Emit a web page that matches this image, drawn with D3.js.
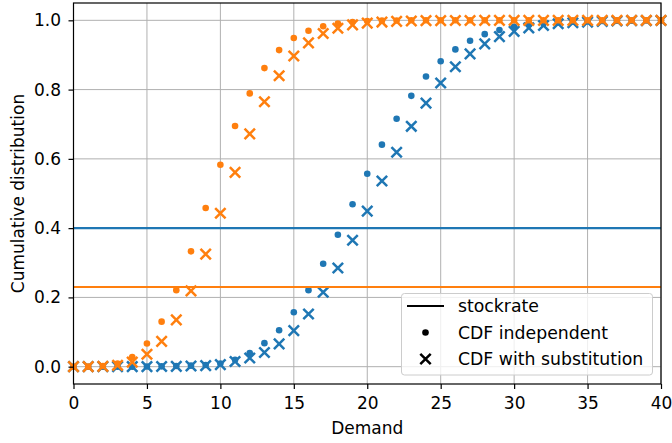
<!DOCTYPE html>
<html lang="en">
<head>
<meta charset="UTF-8">
<title>Cumulative distribution</title>
<script src="https://d3js.org/d3.v7.min.js"></script>
<style>
  body { margin: 0; background: #fff; }
  svg { display: block; font-family: 'DejaVu Sans', sans-serif; }
</style>
</head>
<body>
<svg id="chart" width="672" height="443"></svg>
<script>
// demand values 0..40
var demand = [0,1,2,3,4,5,6,7,8,9,10,11,12,13,14,15,16,17,18,19,20,21,22,23,24,25,26,27,28,29,30,31,32,33,34,35,36,37,38,39,40];

var blueIndep = [0,0,0,0,0,0.0005,0.001,0.002,0.003,0.005,0.009,0.02,0.039,0.068,0.105,0.157,0.221,0.297,0.381,0.469,
  0.557,0.641,0.716,0.782,0.838,0.882,0.916,0.941,0.960,0.972,0.981,0.987,0.991,0.994,0.996,0.997,0.998,0.999,0.999,0.9995,1.0];
var blueSubst = [0,0,0,0,0,0,0.0005,0.001,0.002,0.003,0.006,0.015,0.025,0.041,0.066,0.104,0.152,0.215,0.285,0.365,
  0.449,0.536,0.619,0.694,0.761,0.819,0.866,0.903,0.932,0.953,0.968,0.978,0.985,0.990,0.993,0.995,0.997,0.998,0.999,0.999,0.9995];
var orangeIndep = [0,0.0002,0.002,0.009,0.028,0.067,0.130,0.221,0.333,0.458,0.583,0.695,0.789,0.862,0.914,0.949,0.970,0.983,0.991,0.995,
  0.998,0.999,0.9995,1,1,1,1,1,1,1,1,1,1,1,1,1,1,1,1,1,1];
var orangeSubst = [0,0,0.001,0.004,0.013,0.036,0.073,0.135,0.219,0.325,0.443,0.561,0.672,0.765,0.840,0.897,0.935,0.962,0.977,0.987,
  0.992,0.995,0.997,0.998,0.999,0.999,0.9995,0.9995,1,1,1,1,1,1,1,1,1,1,1,1,1];

var stockrates = [0.4, 0.23];
var colors = ["#1f77b4", "#ff7f0e"];

var xTicks = [0,5,10,15,20,25,30,35,40];
var yTicks = [0.0,0.2,0.4,0.6,0.8,1.0];

var legendLabels = ["stockrate", "CDF independent", "CDF with substitution"];

var svg = d3.select("#chart");
var L = 73.5, R = 661, T = 3, B = 384;
var FS = "17px";

var x = d3.scaleLinear().domain([0, 40]).range([L, R]);
var y = d3.scaleLinear().domain([-0.05, 1.05]).range([B, T]);

// grid
var grid = svg.append("g");
grid.selectAll("line.gx").data(xTicks).enter().append("line")
  .attr("x1", d => x(d)).attr("x2", d => x(d)).attr("y1", T).attr("y2", B)
  .attr("stroke", "#b0b0b0").attr("stroke-width", 1);
grid.selectAll("line.gy").data(yTicks).enter().append("line")
  .attr("x1", L).attr("x2", R).attr("y1", d => y(d)).attr("y2", d => y(d))
  .attr("stroke", "#b0b0b0").attr("stroke-width", 1);

var series = [
  {color: colors[0], stock: stockrates[0], indep: blueIndep, subst: blueSubst},
  {color: colors[1], stock: stockrates[1], indep: orangeIndep, subst: orangeSubst}
];

var plot = svg.append("g");
function cross(g, cx, cy, s, color) {
  g.append("path")
    .attr("d", "M" + (cx - s) + "," + (cy - s) + "L" + (cx + s) + "," + (cy + s) +
               "M" + (cx - s) + "," + (cy + s) + "L" + (cx + s) + "," + (cy - s))
    .attr("stroke", color).attr("stroke-width", 2.5).attr("fill", "none");
}

series.forEach(function(s) {
  plot.append("line")
    .attr("x1", L).attr("x2", R).attr("y1", y(s.stock)).attr("y2", y(s.stock))
    .attr("stroke", s.color).attr("stroke-width", 2.2);
  plot.append("g").selectAll("circle").data(s.indep).enter().append("circle")
    .attr("cx", (d, i) => x(demand[i])).attr("cy", d => y(d)).attr("r", 3.3)
    .attr("fill", s.color);
  var cg = plot.append("g");
  s.subst.forEach(function(d, i) { cross(cg, x(demand[i]), y(d), 5.2, s.color); });
});

// axes frame
svg.append("rect").attr("x", L).attr("y", T).attr("width", R - L).attr("height", B - T)
  .attr("fill", "none").attr("stroke", "#000").attr("stroke-width", 1.2);

var xAxis = d3.axisBottom(x).tickValues(xTicks).tickFormat(d3.format("d")).tickSize(5).tickPadding(8.2);
var yAxis = d3.axisLeft(y).tickValues(yTicks).tickFormat(d3.format(".1f")).tickSize(5).tickPadding(7.5);

var gx = svg.append("g").attr("transform", "translate(0," + B + ")").call(xAxis);
var gy = svg.append("g").attr("transform", "translate(" + L + ",0)").call(yAxis);
[gx, gy].forEach(function(g) {
  g.select(".domain").remove();
  g.selectAll("line").attr("stroke", "#000").attr("stroke-width", 1.2);
  g.selectAll("text").attr("fill", "#000").attr("font-size", FS).attr("font-family", "'DejaVu Sans', sans-serif");
});

svg.append("text").attr("x", (L + R) / 2).attr("y", 434).attr("text-anchor", "middle")
  .attr("font-size", FS).text("Demand");
svg.append("text").attr("transform", "translate(24," + ((T + B) / 2) + ") rotate(-90)")
  .attr("text-anchor", "middle").attr("font-size", FS).text("Cumulative distribution");

// legend
var lg = svg.append("g");
lg.append("rect").attr("x", 401.5).attr("y", 293.5).attr("width", 251).attr("height", 81.5)
  .attr("rx", 3).attr("fill", "#fff").attr("fill-opacity", 0.8).attr("stroke", "#cccccc").attr("stroke-width", 1);
var rowY = [306, 332.5, 359];
lg.append("line").attr("x1", 407).attr("x2", 444).attr("y1", rowY[0]).attr("y2", rowY[0])
  .attr("stroke", "#000").attr("stroke-width", 2.2);
lg.append("circle").attr("cx", 425.5).attr("cy", rowY[1]).attr("r", 3.3).attr("fill", "#000");
cross(lg, 425.5, rowY[2], 5.2, "#000");
lg.selectAll("text").data(legendLabels).enter().append("text")
  .attr("x", 458).attr("y", (d, i) => rowY[i] + 6).attr("font-size", "17.3px").text(d => d);
</script>
</body>
</html>
